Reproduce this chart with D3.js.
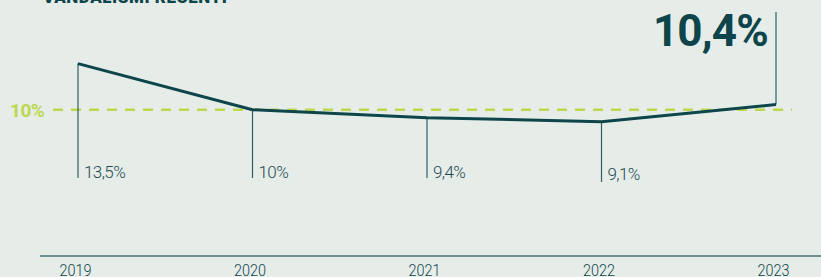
<!DOCTYPE html>
<html><head><meta charset="utf-8">
<script src="https://cdn.jsdelivr.net/npm/d3@7"></script>
<style>
html,body{margin:0;padding:0;background:#e6ede9;}
svg{display:block;}
</style></head>
<body>
<svg id="c" width="821" height="277"></svg>
<script>
const years = ["2019","2020","2021","2022","2023"];
const values = [13.5, 10, 9.4, 9.1, 10.4];
const valueLabels = ["13,5%","10%","9,4%","9,1%","10,4%"];
const referenceValue = 10;
const referenceLabel = "10%";
const title = "VANDALISMI RECENTI";

const W = 821, H = 277;
const dark = "#0e454a", green = "#bdd84f";
const svg = d3.select("#c");
svg.append("rect").attr("width",W).attr("height",H).attr("fill","#e6ede9");

const x = d3.scalePoint().domain(years).range([78, 776]);
const y = d3.scaleLinear().domain([9, 14]).range([123, 57]);

// title (cut off at top)
svg.append("text").attr("x",43).attr("y",3)
  .attr("font-family","Roboto").attr("font-weight",900).attr("font-size",17)
  .attr("fill",dark).attr("textLength",184).text(title);

// reference dashed line
const yRef = y(referenceValue);
svg.append("line").attr("x1",53).attr("x2",792).attr("y1",yRef).attr("y2",yRef)
  .attr("stroke",green).attr("stroke-width",2.5).attr("stroke-dasharray","10,8");
svg.append("text").attr("x",10).attr("y",yRef+7)
  .attr("font-family","Roboto").attr("font-weight",700).attr("font-size",19)
  .attr("fill",green).attr("letter-spacing",-0.5).text(referenceLabel);

// drop lines and labels
years.forEach((yr,i)=>{
  const px = x(yr), py = y(values[i]);
  const last = i === years.length-1;
  svg.append("line").attr("x1",px).attr("x2",px)
    .attr("y1",py).attr("y2", last ? 12 : 178 + (i===3?4:0))
    .attr("stroke","#2e5e63").attr("stroke-width",1.2);
  if(last){
    svg.append("text").attr("x",px-8).attr("y",46).attr("text-anchor","end")
      .attr("font-family","Roboto").attr("font-weight",700).attr("font-size",44)
      .attr("fill",dark).attr("letter-spacing",-0.8).text(valueLabels[i]);
  } else {
    svg.append("text").attr("x",px+6).attr("y",178 + (i===3?2:0))
      .attr("font-family","Roboto").attr("font-weight",300).attr("font-size",17)
      .attr("fill","#1f4a50").attr("letter-spacing",-0.6).text(valueLabels[i]);
  }
});

// main line
svg.append("path").datum(values)
  .attr("d", d3.line().x((d,i)=>x(years[i])).y(d=>y(d)))
  .attr("fill","none").attr("stroke",dark).attr("stroke-width",3).attr("stroke-linejoin","round");

// axis
const axis = d3.axisBottom(x).tickSize(0).tickPadding(0);
const g = svg.append("g").attr("transform","translate(0,256)").call(axis);
g.select(".domain").remove();
g.append("line").attr("x1",40).attr("x2",W).attr("stroke","#6f9191").attr("stroke-width",2);
g.selectAll(".tick text")
  .attr("dy",null).attr("y",20).attr("x",-3)
  .attr("font-family","Roboto").attr("font-weight",300)
  .attr("font-size",17).attr("fill",dark)
  .attr("textLength",32).attr("lengthAdjust","spacingAndGlyphs");
</script>
</body></html>
